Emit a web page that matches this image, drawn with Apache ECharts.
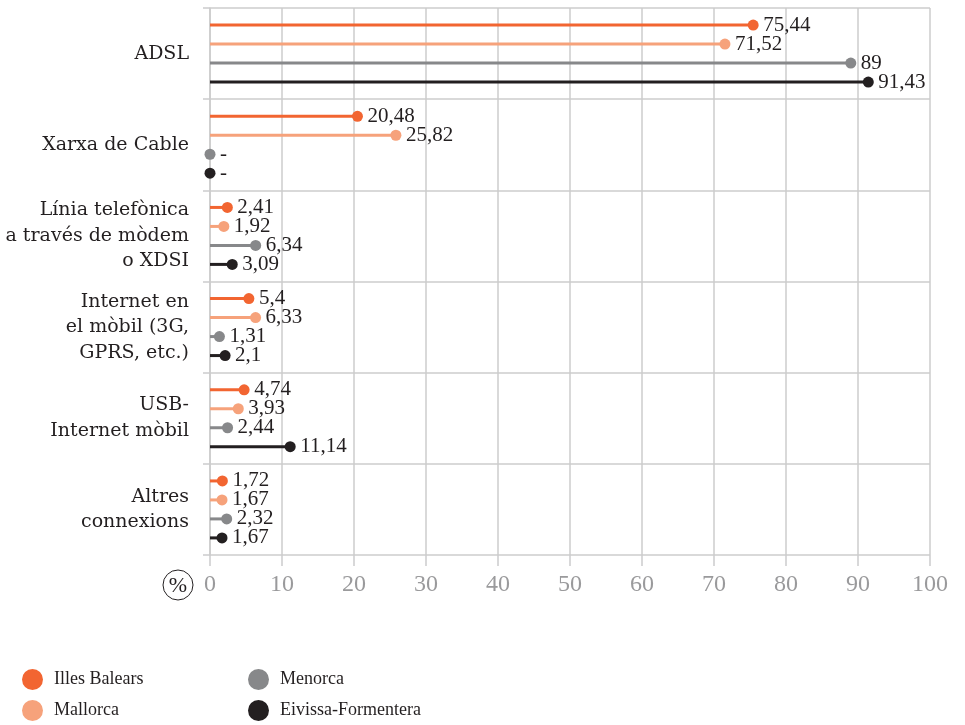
<!DOCTYPE html>
<html><head><meta charset="utf-8">
<script src="https://cdn.jsdelivr.net/npm/echarts@6/dist/echarts.min.js"></script>
<style>html,body{margin:0;padding:0;background:#fff}#c{width:965px;height:725px}</style>
</head><body><div id="c"></div>
<script>
const categories = ['ADSL', 'Xarxa de Cable', 'Línia telefònica\na través de mòdem\no XDSI', 'Internet en\nel mòbil (3G,\nGPRS, etc.)', 'USB-\nInternet mòbil', 'Altres\nconnexions'];
const seriesNames = ['Illes Balears', 'Mallorca', 'Menorca', 'Eivissa-Formentera'];
const illesBalears = [75.44, 20.48, 2.41, 5.4, 4.74, 1.72];
const mallorca = [71.52, 25.82, 1.92, 6.33, 3.93, 1.67];
const menorca = [89, null, 6.34, 1.31, 2.44, 2.32];
const eivissaFormentera = [91.43, null, 3.09, 2.1, 11.14, 1.67];
const xTicks = [0, 10, 20, 30, 40, 50, 60, 70, 80, 90, 100];

const colors = ['#f26531', '#f6a27b', '#87888a', '#231f20'];
const values = [illesBalears, mallorca, menorca, eivissaFormentera];
const FONT = '"Liberation Serif", serif';
const CAT_FONT = '"DejaVu Serif", serif';
const TXT = '#231f20';

function toData(arr) {
  return arr.map(v => v === null ? { value: 0, missing: true } : { value: v });
}
function fmt(p) {
  if (p.data && p.data.missing) return '-';
  return String(p.value).replace('.', ',');
}

const series = [];
values.forEach((arr, i) => {
  series.push({
    name: seriesNames[i], type: 'bar', data: toData(arr),
    barWidth: 3, barGap: '533%', z: 2,
    itemStyle: { color: colors[i] },
    label: { show: true, position: 'right', distance: 10, formatter: fmt,
      color: TXT, fontFamily: FONT, fontSize: 21 },
    emphasis: { disabled: true }
  });
});
values.forEach((arr, i) => {
  series.push({
    name: seriesNames[i], type: 'pictorialBar', data: toData(arr),
    barWidth: 3, barGap: '533%', z: 3,
    symbol: 'circle', symbolSize: [11, 11], symbolPosition: 'end', symbolOffset: ['50%', 0],
    itemStyle: { color: colors[i] },
    emphasis: { disabled: true }
  });
});

const legendCommon = {
  orient: 'vertical', top: 669, height: 60, padding: 0, icon: 'circle',
  itemWidth: 21, itemHeight: 21, itemGap: 10, selectedMode: false,
  textStyle: { color: TXT, fontSize: 18, fontFamily: FONT, padding: [0, 0, 0, 6] }
};

const chart = echarts.init(document.getElementById('c'));
chart.setOption({
  animation: false,
  textStyle: { fontFamily: FONT },
  grid: { left: 210, right: 35, top: 8, bottom: 170, containLabel: false },
  xAxis: {
    type: 'value', min: 0, max: 100, interval: 10,
    axisLine: { show: false },
    axisTick: { show: true, length: 11, lineStyle: { color: '#cccccd', width: 1.5 } },
    splitLine: { show: true, lineStyle: { color: '#cccccd', width: 1.5 } },
    axisLabel: { color: '#9a9a9c', fontSize: 24, margin: 18, fontFamily: FONT,
      formatter: v => xTicks.includes(v) ? String(v) : '' }
  },
  yAxis: {
    type: 'category', data: categories, inverse: true,
    axisLine: { show: true, lineStyle: { color: '#cccccd', width: 1.5 } },
    axisTick: { show: true, length: 7, lineStyle: { color: '#cccccd', width: 1.5 } },
    splitLine: { show: true, lineStyle: { color: '#cccccd', width: 1.5 } },
    axisLabel: { color: TXT, fontSize: 19, lineHeight: 25.5, margin: 21, fontFamily: CAT_FONT,
      padding: [12, 0, 0, 0] }
  },
  legend: [
    Object.assign({ data: seriesNames.slice(0, 2), left: 22 }, legendCommon),
    Object.assign({ data: seriesNames.slice(2, 4), left: 248 }, legendCommon)
  ],
  graphic: [
    { type: 'circle', shape: { cx: 178, cy: 585, r: 15 }, style: { fill: 'none', stroke: TXT, lineWidth: 1 } },
    { type: 'text', x: 178, y: 586, style: { text: '%', fill: TXT, font: '22px "Liberation Serif"', align: 'center', verticalAlign: 'middle' } }
  ],
  series: series
});
</script></body></html>
